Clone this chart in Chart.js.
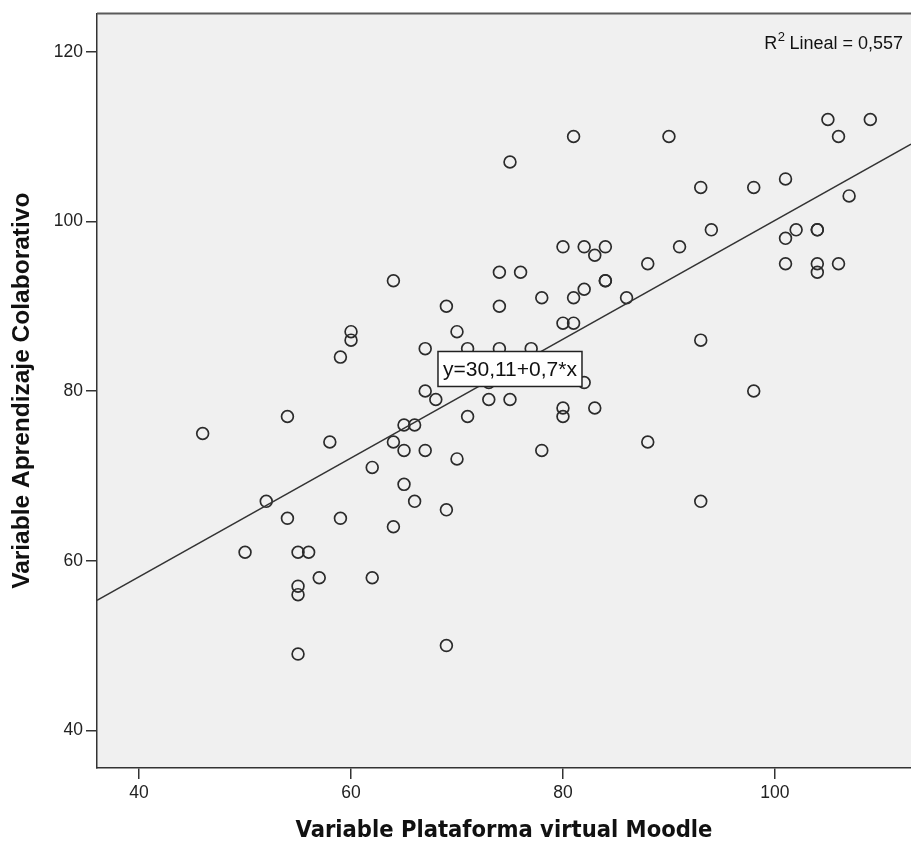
<!DOCTYPE html>
<html>
<head>
<meta charset="utf-8">
<title>Plataforma virtual Moodle vs Aprendizaje Colaborativo</title>
<script src="https://cdn.jsdelivr.net/npm/chart.js@4.4.1/dist/chart.umd.min.js"></script>
<style>
  html, body { margin: 0; padding: 0; background: #ffffff; }
  #scatter { display: block; }
</style>
</head>
<body>
<canvas id="scatter" width="911" height="846"></canvas>
<script>
// valores
let moodle_values = [46, 52, 50, 54, 54, 55, 56, 55, 55, 55, 57, 58, 59, 59, 60, 60, 62, 62,
    64, 64, 64, 65, 65, 65, 66, 66, 67, 67, 67, 68, 69, 69, 69, 70, 70, 71, 71, 73, 73,
    74, 74, 74, 75, 75, 76, 77, 78, 78, 80, 80, 80, 80, 81, 81, 81, 82, 82, 82, 83, 83,
    84, 84, 84, 86, 88, 88, 90, 91, 93, 93, 93, 94, 98, 98, 101, 101, 101, 102, 104, 104,
    104, 104, 105, 106, 106, 107, 109];
let colab_values = [75, 67, 61, 77, 65, 61, 61, 57, 56, 49, 58, 74, 65, 84, 87, 86, 71, 58,
    93, 74, 64, 76, 73, 69, 76, 67, 85, 80, 73, 79, 90, 66, 50, 87, 72, 85, 77, 79, 81,
    94, 90, 85, 107, 79, 94, 85, 91, 73, 97, 88, 78, 77, 110, 91, 88, 97, 92, 81, 96, 78,
    97, 93, 93, 91, 95, 74, 110, 97, 104, 86, 67, 99, 104, 80, 105, 98, 95, 99, 99, 99,
    95, 94, 112, 110, 95, 103, 112];
let x_ticks = [40, 60, 80, 100];
let y_ticks = [40, 60, 80, 100, 120];
let fit_intercept = 30.11;
let fit_slope = 0.7;
let fit_label = 'y=30,11+0,7*x';
let r2_text = ' Lineal = 0,557';

const x_min = 36.03, x_max = 112.84;
const y_min = 35.57, y_max = 124.5;

let points = [];
for (let i = 0; i < moodle_values.length; i++) {
    points.push({x: moodle_values[i], y: colab_values[i]});
}
let fit_line = [
    {x: x_min, y: fit_intercept + fit_slope * x_min},
    {x: x_max, y: fit_intercept + fit_slope * x_max}
];

/* fondo gris y borde superior del area */
const plotBackground = {
    id: 'plotBackground',
    beforeDraw(chart) {
        const {ctx, chartArea} = chart;
        ctx.save();
        ctx.fillStyle = '#f0f0f0';
        ctx.fillRect(chartArea.left, chartArea.top, chartArea.right - chartArea.left, chartArea.bottom - chartArea.top);
        ctx.restore();
    },
    afterDraw(chart) {
        const {ctx, chartArea} = chart;
        ctx.save();
        ctx.strokeStyle = '#5a5a5a';
        ctx.lineWidth = 2;
        ctx.beginPath();
        ctx.moveTo(chartArea.left, chartArea.top);
        ctx.lineTo(chartArea.right, chartArea.top);
        ctx.stroke();
        ctx.restore();
    }
};

/* etiqueta de la recta y texto R2 */
const fitLabels = {
    id: 'fitLabels',
    afterDatasetsDraw(chart) {
        const {ctx, chartArea} = chart;
        const xs = chart.scales.x, ys = chart.scales.y;
        ctx.save();

        // caja con la ecuacion
        const cx = xs.getPixelForValue(75.0);
        const cy = ys.getPixelForValue(82.6);
        const w = 144, h = 35;
        ctx.fillStyle = '#ffffff';
        ctx.fillRect(cx - w / 2, cy - h / 2, w, h);
        ctx.strokeStyle = '#222222';
        ctx.lineWidth = 1.5;
        ctx.strokeRect(cx - w / 2, cy - h / 2, w, h);
        ctx.fillStyle = '#111111';
        ctx.font = '21px "Liberation Sans", Arial, sans-serif';
        ctx.textAlign = 'center';
        ctx.textBaseline = 'middle';
        ctx.fillText(fit_label, cx, cy + 1);

        // R2 Lineal
        ctx.textBaseline = 'alphabetic';
        ctx.textAlign = 'left';
        ctx.font = '18px "Liberation Sans", Arial, sans-serif';
        const restW = ctx.measureText(r2_text).width;
        const rW = ctx.measureText('R').width;
        ctx.font = '13px "Liberation Sans", Arial, sans-serif';
        const supW = ctx.measureText('2').width;
        const right = chartArea.right - 8;
        const base = chartArea.top + 35;
        let x0 = right - restW - supW - rW;
        ctx.font = '18px "Liberation Sans", Arial, sans-serif';
        ctx.fillText('R', x0, base);
        ctx.font = '13px "Liberation Sans", Arial, sans-serif';
        ctx.fillText('2', x0 + rW + 0.5, base - 8);
        ctx.font = '18px "Liberation Sans", Arial, sans-serif';
        ctx.fillText(r2_text, x0 + rW + supW, base);
        ctx.restore();
    }
};

window.onload = function() {
    const ctx = document.getElementById('scatter');
    const scatterChart = new Chart(ctx, {
        type: 'scatter',
        data: {
            datasets: [{
                    label: 'Casos',
                    data: points,
                    pointStyle: 'circle',
                    pointRadius: 5.9,
                    pointBorderWidth: 1.7,
                    borderColor: '#2b2b2b',
                    backgroundColor: 'rgba(0, 0, 0, 0)',
                    order: 2
                },
                {
                    type: 'line',
                    label: 'Lineal',
                    data: fit_line,
                    borderColor: '#333333',
                    borderWidth: 1.4,
                    pointRadius: 0,
                    fill: false,
                    order: 1
                }
            ]
        },
        options: {
            responsive: false,
            animation: false,
            devicePixelRatio: 1,
            layout: {
                autoPadding: false,
                padding: {top: 13, right: 0, bottom: 0, left: 0}
            },
            plugins: {
                legend: {display: false},
                tooltip: {enabled: false}
            },
            scales: {
                x: {
                    type: 'linear',
                    min: x_min,
                    max: x_max,
                    afterBuildTicks: function(scale) {
                        scale.ticks = x_ticks.map(v => ({value: v}));
                    },
                    afterFit: function(scale) {
                        scale.height = 78;
                    },
                    grid: {
                        drawOnChartArea: false,
                        drawTicks: true,
                        tickLength: 11,
                        color: '#333333',
                        lineWidth: 1.5
                    },
                    border: {display: true, color: '#333333', width: 1.5},
                    ticks: {
                        autoSkip: false,
                        maxRotation: 0,
                        padding: 4,
                        color: '#222222',
                        font: {family: '"Liberation Sans", Arial, sans-serif', size: 17.5}
                    },
                    title: {
                        display: true,
                        text: 'Variable Plataforma virtual Moodle',
                        color: '#111111',
                        padding: {top: 0, bottom: 1},
                        font: {family: '"DejaVu Sans Condensed", "DejaVu Sans", sans-serif', weight: 'bold', size: 23.5}
                    }
                },
                y: {
                    type: 'linear',
                    min: y_min,
                    max: y_max,
                    afterBuildTicks: function(scale) {
                        scale.ticks = y_ticks.map(v => ({value: v}));
                    },
                    afterFit: function(scale) {
                        scale.width = 97;
                    },
                    grid: {
                        drawOnChartArea: false,
                        drawTicks: true,
                        tickLength: 11,
                        color: '#333333',
                        lineWidth: 1.5
                    },
                    border: {display: true, color: '#333333', width: 1.5},
                    ticks: {
                        autoSkip: false,
                        padding: 3,
                        color: '#222222',
                        font: {family: '"Liberation Sans", Arial, sans-serif', size: 17.5}
                    },
                    title: {
                        display: true,
                        text: 'Variable Aprendizaje Colaborativo',
                        color: '#111111',
                        padding: {top: 8, bottom: 0},
                        font: {family: '"Liberation Sans Narrow", "Liberation Sans", sans-serif', weight: 'bold', size: 24.5}
                    }
                }
            }
        },
        plugins: [plotBackground, fitLabels]
    });
};
</script>
</body>
</html>
